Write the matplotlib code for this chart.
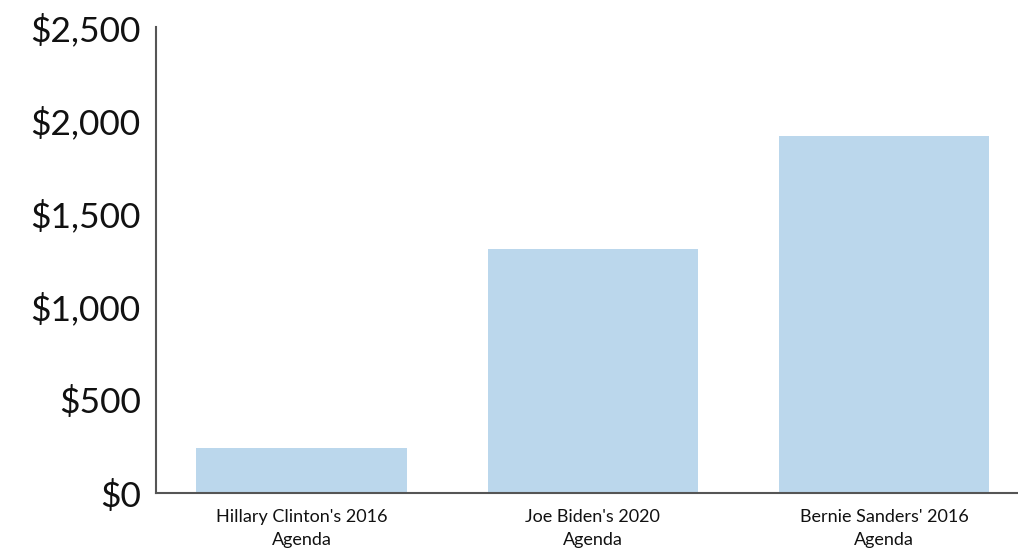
import matplotlib.pyplot as plt
from matplotlib.ticker import FuncFormatter

# data
agendas = ["Hillary Clinton's 2016\nAgenda", "Joe Biden's 2020\nAgenda", "Bernie Sanders' 2016\nAgenda"]
amounts = [241, 1309, 1917]
y_ticks = [0, 500, 1000, 1500, 2000, 2500]

plt.rcParams['font.family'] = ['Lato', 'DejaVu Sans']

fig = plt.figure(figsize=(10.18, 5.5), dpi=100)
ax = fig.add_axes([0.1532, 0.1036, 0.8468, 0.8474])

ax.bar(range(len(agendas)), amounts, width=0.722, color='#bbd7ec')

ax.set_xlim(-0.5, 2.46)
ax.set_ylim(0, 2500)
ax.set_yticks(y_ticks)
ax.yaxis.set_major_formatter(FuncFormatter(lambda v, _: f"${v:,.0f}"))
ax.set_xticks(range(len(agendas)))
ax.set_xticklabels(agendas, fontsize=13, linespacing=1.55)

ax.tick_params(axis='y', length=0, pad=11, labelsize=25.5, labelcolor='#111111')
ax.tick_params(axis='x', length=0, pad=11.5, labelcolor='#111111')

for side in ['top', 'right']:
    ax.spines[side].set_visible(False)
for side in ['left', 'bottom']:
    ax.spines[side].set_color('#555555')
    ax.spines[side].set_linewidth(1.5)

fig.savefig('out.png', dpi=100)
